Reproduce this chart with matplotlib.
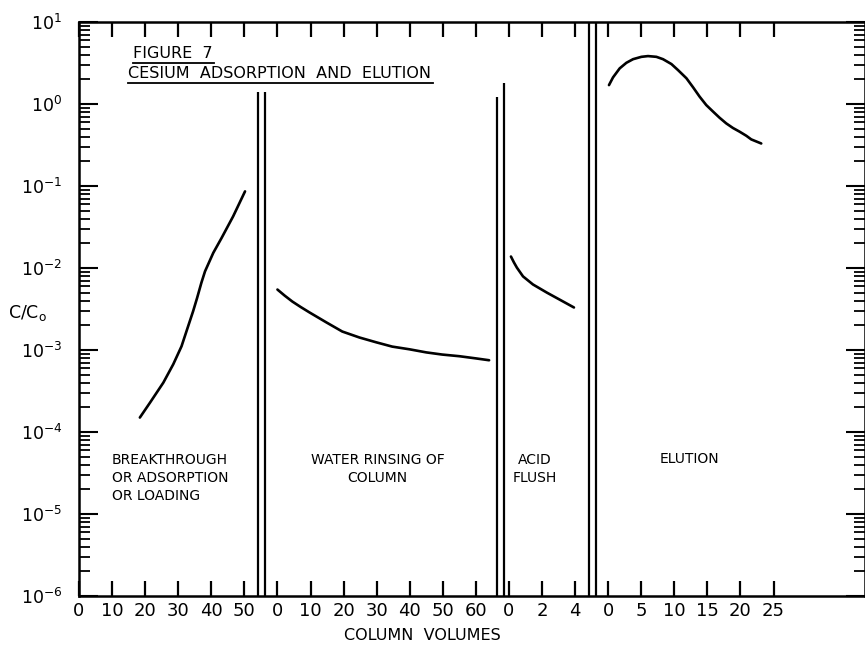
import matplotlib
matplotlib.use('Agg')
import matplotlib.pyplot as plt
from matplotlib.ticker import LogLocator, NullFormatter
from matplotlib.lines import Line2D

# column volumes and C/Co, one pair per stage
load_vol = [18.4, 21.5, 25.5, 28.5, 31.0, 33.0, 34.5, 35.7, 37.0, 38.1, 40.6, 43.1, 46.6, 50.2]
load_c = [1.5e-4, 2.29e-4, 4.0e-4, 6.7e-4, 1.11e-3, 1.95e-3, 2.97e-3, 4.3e-3, 6.6e-3,
          9.1e-3, 1.53e-2, 2.32e-2, 4.26e-2, 8.6e-2]
rinse_vol = [0, 2.2, 4.5, 7.0, 9.7, 14.8, 19.6, 24.8, 29.9, 34.7, 39.9, 45, 49.8, 55, 60, 64]
rinse_c = [5.46e-3, 4.6e-3, 3.9e-3, 3.35e-3, 2.87e-3, 2.17e-3, 1.68e-3, 1.42e-3, 1.24e-3,
           1.1e-3, 1.02e-3, 9.35e-4, 8.8e-4, 8.4e-4, 7.9e-4, 7.5e-4]
acid_vol = [0.12, 0.3, 0.48, 0.85, 1.45, 2.3, 3.08, 3.93]
acid_c = [1.38e-2, 1.17e-2, 1.01e-2, 7.9e-3, 6.3e-3, 5.0e-3, 4.1e-3, 3.3e-3]
elut_vol = [0.12, 0.73, 1.74, 2.75, 3.76, 5.02, 6.02, 7.29, 8.29, 9.56, 10.56, 11.83, 12.83,
            13.82, 14.83, 15.84, 16.84, 17.85, 18.86, 19.86, 20.88, 21.63, 23.14]
elut_c = [1.70, 2.11, 2.72, 3.18, 3.52, 3.76, 3.84, 3.76, 3.52, 3.07, 2.59, 2.06, 1.60,
          1.23, 0.97, 0.81, 0.68, 0.58, 0.51, 0.46, 0.41, 0.37, 0.33]

# each stage has its own x scale: where its zero sits and volumes per tick
seg_offset = [0, 6, 13, 16]
seg_step = [10, 10, 2, 5]
seg_ticks = [[0, 10, 20, 30, 40, 50],
             [0, 10, 20, 30, 40, 50, 60],
             [0, 2, 4],
             [0, 5, 10, 15, 20, 25]]
seg_names = ["BREAKTHROUGH\nOR ADSORPTION\nOR LOADING", "WATER RINSING OF\nCOLUMN",
             "ACID\nFLUSH", "ELUTION"]

# double break lines between stages
divider_x = [5.41, 5.62, 12.63, 12.84, 15.41, 15.62]
divider_top = [1.4, 1.4, 1.22, 1.8, 10, 10]

plt.rcParams['font.family'] = ['DejaVu Sans']

fig = plt.figure(figsize=(8.65, 6.45), dpi=100)
ax = fig.add_axes([79 / 865, 49 / 645, 785.5 / 865, 574 / 645])
ax.set_yscale('log')
ax.set_ylim(1e-6, 10)
ax.set_xlim(0, 23.75)

series = [(load_vol, load_c), (rinse_vol, rinse_c), (acid_vol, acid_c), (elut_vol, elut_c)]
for i, (v, c) in enumerate(series):
    pos = [seg_offset[i] + x / seg_step[i] for x in v]
    ax.plot(pos, c, color='black', lw=1.9, solid_capstyle='round', solid_joinstyle='round')

ax.vlines(divider_x, 1e-6, divider_top, color='black', lw=1.6)

tick_pos, tick_lab = [], []
for i, ticks in enumerate(seg_ticks):
    for t in ticks:
        tick_pos.append(seg_offset[i] + t / seg_step[i])
        tick_lab.append(str(t))
ax.set_xticks(tick_pos)
ax.set_xticklabels(tick_lab, fontsize=13)
ax.tick_params(axis='x', direction='in', length=11, width=1.6, top=True, bottom=True, pad=4)

ax.yaxis.set_major_locator(LogLocator(base=10, numticks=10))
ax.yaxis.set_minor_locator(LogLocator(base=10, subs=range(2, 10), numticks=20))
ax.yaxis.set_minor_formatter(NullFormatter())
ax.tick_params(axis='y', which='major', direction='in', length=14, width=1.5,
               left=True, right=True, labelsize=12.5, pad=12)
ax.tick_params(axis='y', which='minor', direction='in', length=8, width=1.3,
               left=True, right=True)

for s in ax.spines.values():
    s.set_linewidth(1.8)

ax.set_ylabel("C/C$_\\mathregular{o}$", rotation=0, fontsize=12.5)
ax.yaxis.set_label_coords(-0.066, 0.475)
fig.text(422 / 865, 1 - 636 / 645, "COLUMN  VOLUMES", fontsize=11.5, ha='center', va='center')

# stage names
ax.text(1.0, 10 ** -4.56, seg_names[0], fontsize=10, ha='left', va='center', linespacing=1.4)
ax.text(9.03, 10 ** -4.45, seg_names[1], fontsize=10, ha='center', va='center',
        linespacing=1.4, multialignment='center')
ax.text(13.78, 10 ** -4.45, seg_names[2], fontsize=10, ha='center', va='center',
        linespacing=1.4, multialignment='center')
ax.text(18.46, 10 ** -4.33, seg_names[3], fontsize=10, ha='center', va='center')

t1 = ax.text(1.63, 10 ** 0.62, "FIGURE  7", fontsize=11.5, ha='left', va='center')
t2 = ax.text(1.48, 10 ** 0.377, "CESIUM  ADSORPTION  AND  ELUTION", fontsize=11.5,
             ha='left', va='center')

# underline the title lines
fig.canvas.draw()
inv = fig.transFigure.inverted()
for t in (t1, t2):
    bb = t.get_window_extent().transformed(inv)
    fig.add_artist(Line2D([bb.x0, bb.x1 + 0.002], [bb.y0 - 0.003, bb.y0 - 0.003],
                          transform=fig.transFigure, color='black', lw=1.3))

fig.savefig("out.png", dpi=100)
